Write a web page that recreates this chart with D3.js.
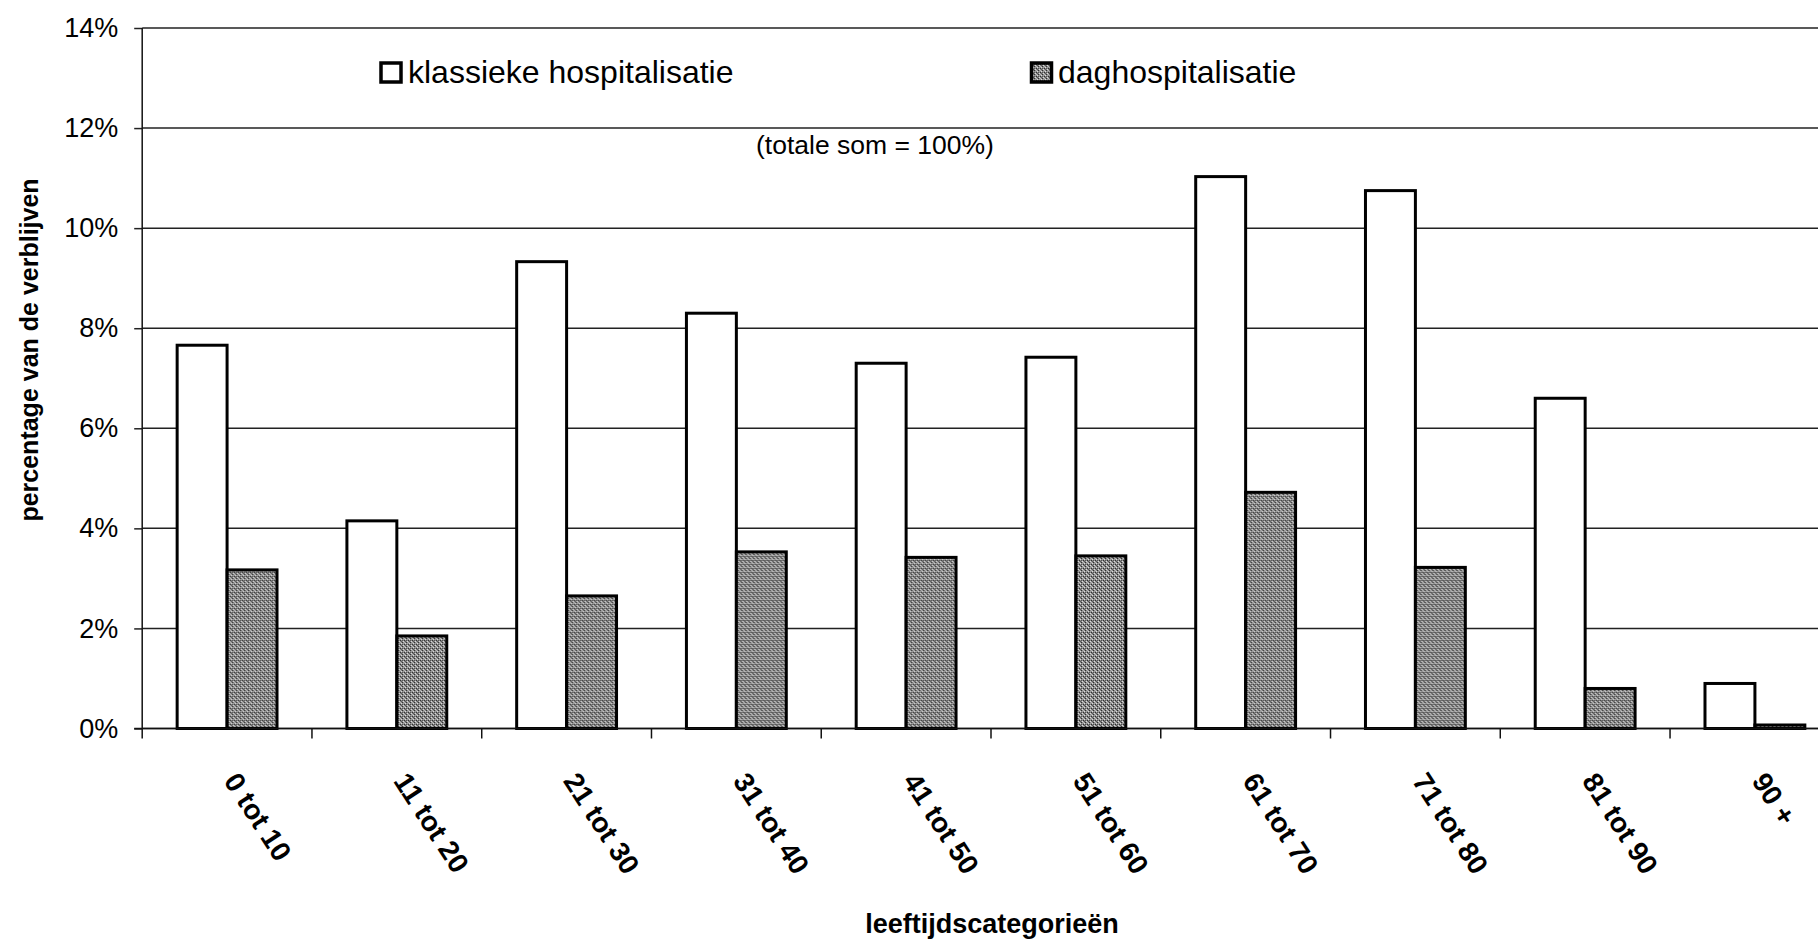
<!DOCTYPE html>
<html>
<head>
<meta charset="utf-8">
<script src="https://cdn.jsdelivr.net/npm/d3@7"></script>
<style>
  html, body { margin: 0; padding: 0; background: #fff; }
  svg { display: block; }
  text { font-family: "Liberation Sans", Arial, sans-serif; fill: #000; }
</style>
</head>
<body>
<svg id="chart" width="1818" height="943"></svg>
<script>
// ---- data ----
const categories = ["0 tot 10", "11 tot 20", "21 tot 30", "31 tot 40", "41 tot 50",
                    "51 tot 60", "61 tot 70", "71 tot 80", "81 tot 90", "90 +"];
const seriesNames = ["klassieke hospitalisatie", "daghospitalisatie"];
const klassiek = [7.66, 4.15, 9.33, 8.30, 7.30, 7.42, 11.03, 10.75, 6.60, 0.90];
const dag      = [3.17, 1.85, 2.65, 3.53, 3.42, 3.45, 4.72, 3.22, 0.80, 0.07];
const yTicks   = [0, 2, 4, 6, 8, 10, 12, 14];
const yTitle = "percentage van de verblijven";
const xTitle = "leeftijdscategorieën";
const note = "(totale som = 100%)";

const svg = d3.select("#chart");
svg.append("rect").attr("width", 1818).attr("height", 943).attr("fill", "#fff");

// pattern for the grey series
const defs = svg.append("defs");
const pat = defs.append("pattern").attr("id", "grey").attr("patternUnits", "userSpaceOnUse")
  .attr("width", 4).attr("height", 4);
pat.append("rect").attr("width", 4).attr("height", 4).attr("fill", "#8a8a8a");
[[0,0,"#303030"],[2,2,"#303030"],[1,3,"#dcdcdc"],[3,1,"#dcdcdc"],[2,0,"#555"],[0,2,"#b8b8b8"],[1,1,"#5a5a5a"],[3,3,"#a0a0a0"]]
  .forEach(([px,py,c]) => pat.append("rect").attr("x", px).attr("y", py).attr("width", 1).attr("height", 1).attr("fill", c));

const plotLeft = 142.2, plotRight = 1839.8, plotTop = 28, plotBottom = 728.5;
const x0 = d3.scaleBand().domain(categories).range([plotLeft, plotRight]).paddingInner(0).paddingOuter(0);
const x1 = d3.scaleBand().domain(seriesNames).range([0, x0.bandwidth()]).paddingInner(0).paddingOuter(0.7);
const y = d3.scaleLinear().domain([0, 14]).range([plotBottom, plotTop]);
const color = d3.scaleOrdinal().domain(seriesNames).range(["#ffffff", "url(#grey)"]);

// y axis ticks/labels
const yAxis = d3.axisLeft(y).tickValues(yTicks).tickSize(8).tickPadding(16).tickFormat(d => d + "%");
const gy = svg.append("g").attr("transform", `translate(${plotLeft},0)`).call(yAxis);
gy.select(".domain").remove();
gy.selectAll(".tick line").attr("stroke", "#222").attr("stroke-width", 1.5);
gy.selectAll(".tick text").attr("font-size", 27).attr("font-family", "Liberation Sans, Arial, sans-serif").attr("fill", "#000");

// gridlines
svg.append("g").selectAll("line").data(yTicks).join("line")
  .attr("x1", plotLeft).attr("x2", plotRight)
  .attr("y1", d => y(d)).attr("y2", d => y(d))
  .attr("stroke", "#222").attr("stroke-width", 1.5);

// y axis line
svg.append("line").attr("x1", plotLeft).attr("x2", plotLeft).attr("y1", plotTop).attr("y2", plotBottom + 10)
  .attr("stroke", "#111").attr("stroke-width", 1.5);

// category boundary ticks
svg.append("g").selectAll("line").data(categories.slice(1)).join("line")
  .attr("x1", d => x0(d)).attr("x2", d => x0(d))
  .attr("y1", plotBottom).attr("y2", plotBottom + 10)
  .attr("stroke", "#111").attr("stroke-width", 1.5);

// bars
const rows = categories.map((c, i) => ({ cat: c, vals: [
  { s: seriesNames[0], v: klassiek[i] },
  { s: seriesNames[1], v: dag[i] } ] }));

svg.append("g").selectAll("g").data(rows).join("g")
  .attr("transform", d => `translate(${x0(d.cat)},0)`)
  .selectAll("rect").data(d => d.vals).join("rect")
  .attr("x", d => x1(d.s))
  .attr("width", x1.bandwidth())
  .attr("y", d => y(d.v))
  .attr("height", d => y(0) - y(d.v))
  .attr("fill", d => color(d.s))
  .attr("stroke", "#000").attr("stroke-width", 3);

// x axis baseline
svg.append("line").attr("x1", plotLeft - 8).attr("x2", plotRight).attr("y1", plotBottom).attr("y2", plotBottom)
  .attr("stroke", "#111").attr("stroke-width", 1.5);

// category labels (rotated)
svg.append("g").selectAll("text").data(categories).join("text")
  .attr("transform", d => `translate(${x0(d) + x0.bandwidth() / 2 - 4},781) rotate(57)`)
  .attr("font-size", 28).attr("font-weight", "bold")
  .text(d => d);

// axis titles
svg.append("text").attr("transform", `translate(38,350) rotate(-90)`)
  .attr("text-anchor", "middle").attr("font-size", 25).attr("font-weight", "bold").text(yTitle);
svg.append("text").attr("x", 992).attr("y", 933)
  .attr("text-anchor", "middle").attr("font-size", 27).attr("font-weight", "bold").text(xTitle);

// note
svg.append("text").attr("x", 875).attr("y", 154).attr("text-anchor", "middle")
  .attr("font-size", 26.5).text(note);

// legend
const legendPos = [{ bx: 381, tx: 408 }, { bx: 1031.5, tx: 1058 }];
const lg = svg.append("g").selectAll("g").data(seriesNames).join("g");
lg.append("rect")
  .attr("x", (d, i) => legendPos[i].bx).attr("y", 63)
  .attr("width", 20).attr("height", 19)
  .attr("fill", d => color(d)).attr("stroke", "#000").attr("stroke-width", 3.5);
lg.append("text")
  .attr("x", (d, i) => legendPos[i].tx).attr("y", 83)
  .attr("font-size", 32).text(d => d);
</script>
</body>
</html>
